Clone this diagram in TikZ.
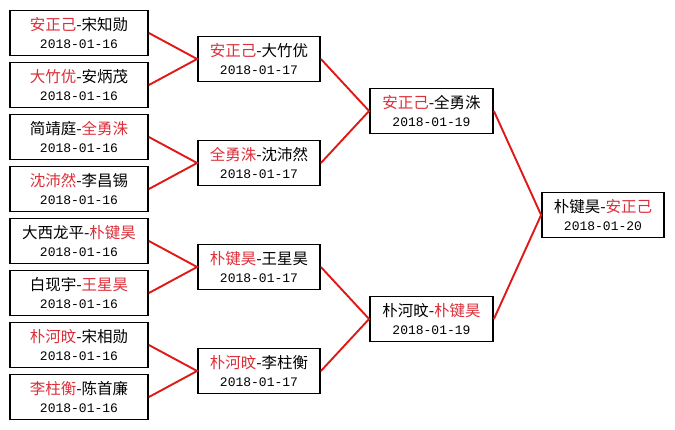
\documentclass[tikz,border=0pt]{standalone}
\usepackage{fontspec}
\usetikzlibrary{positioning}
\newfontfamily\cjk{Noto Sans CJK SC}
\newfontfamily\datefont{Liberation Mono}
\definecolor{winred}{HTML}{DC2F3A}
\definecolor{linkred}{HTML}{E01818}
\newcommand{\win}[1]{{\color{winred}#1}}
\newcommand{\game}[2]{{\cjk\fontsize{15.5}{18}\selectfont #1}\\#2}

\begin{document}
\begin{tikzpicture}[x=1pt, y=-1pt,
  match/.style={draw=black, line width=1.8pt, fill=white, inner sep=0pt,
    minimum width=#1, minimum height=45pt, align=center,
    font=\fontsize{13}{18}\selectfont\datefont},
  match/.default=122pt,
  link/.style={linkred, line width=1.9pt}]

% Canvas
\useasboundingbox (0,0) rectangle (675,429);
\fill[white] (0,0) rectangle (675,429);

% Round 1 (2018-01-16)
\node[match=138pt] (r1a) at (79,33)  {\game{\win{安正己}-宋知勋}{2018-01-16}};
\node[match=138pt] (r1b) at (79,85)  {\game{\win{大竹优}-安炳茂}{2018-01-16}};
\node[match=138pt] (r1c) at (79,137) {\game{简靖庭-\win{全勇洙}}{2018-01-16}};
\node[match=138pt] (r1d) at (79,189) {\game{\win{沈沛然}-李昌锡}{2018-01-16}};
\node[match=138pt] (r1e) at (79,241) {\game{大西龙平-\win{朴键昊}}{2018-01-16}};
\node[match=138pt] (r1f) at (79,293) {\game{白现宇-\win{王星昊}}{2018-01-16}};
\node[match=138pt] (r1g) at (79,345) {\game{\win{朴河旼}-宋相勋}{2018-01-16}};
\node[match=138pt] (r1h) at (79,397) {\game{\win{李柱衡}-陈首廉}{2018-01-16}};

% Round 2 (2018-01-17)
\node[match] (r2a) at (259,59)  {\game{\win{安正己}-大竹优}{2018-01-17}};
\node[match] (r2b) at (259,163) {\game{\win{全勇洙}-沈沛然}{2018-01-17}};
\node[match] (r2c) at (259,267) {\game{\win{朴键昊}-王星昊}{2018-01-17}};
\node[match] (r2d) at (259,371) {\game{\win{朴河旼}-李柱衡}{2018-01-17}};

% Semifinals (2018-01-19)
\node[match=123pt] (semi1) at (431.5,111) {\game{\win{安正己}-全勇洙}{2018-01-19}};
\node[match=123pt] (semi2) at (431.5,319) {\game{朴河旼-\win{朴键昊}}{2018-01-19}};

% Final (2018-01-20)
\node[match] (final) at (603,215) {\game{朴键昊-\win{安正己}}{2018-01-20}};

% Bracket lines
\draw[link] (r1a.east) -- (r2a.west) -- (r1b.east);
\draw[link] (r1c.east) -- (r2b.west) -- (r1d.east);
\draw[link] (r1e.east) -- (r2c.west) -- (r1f.east);
\draw[link] (r1g.east) -- (r2d.west) -- (r1h.east);
\draw[link] (r2a.east) -- (semi1.west) -- (r2b.east);
\draw[link] (r2c.east) -- (semi2.west) -- (r2d.east);
\draw[link] (semi1.east) -- (final.west) -- (semi2.east);

\end{tikzpicture}
\end{document}
